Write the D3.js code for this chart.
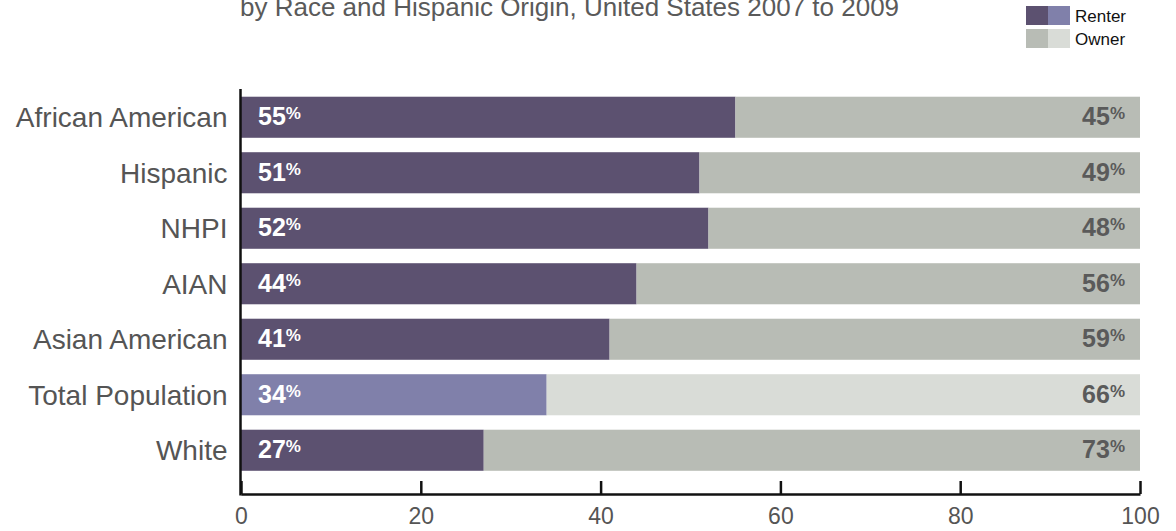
<!DOCTYPE html>
<html><head><meta charset="utf-8">
<script src="https://cdn.jsdelivr.net/npm/d3@7"></script>
<style>
body{margin:0;background:#fff;}
svg{display:block;font-family:"Liberation Sans",Arial,Helvetica,sans-serif;}
</style></head>
<body><svg id="chart" width="1176" height="531"></svg>
<script>
const categories = ["African American","Hispanic","NHPI","AIAN","Asian American","Total Population","White"];
const renter = [55,51,52,44,41,34,27];
const owner = [45,49,48,56,59,66,73];
const highlight = "Total Population";
const tickValues = [0,20,40,60,80,100];
const legendLabels = ["Renter","Owner"];
const subtitle = "by Race and Hispanic Origin, United States 2007 to 2009";

const colors = {
  renter:"#5c5170", renterHi:"#8080aa",
  owner:"#b8bcb5", ownerHi:"#d9dcd7"
};

const svg = d3.select("#chart");
const x = d3.scaleLinear().domain([0,100]).range([241,1140]);
const y = d3.scaleBand().domain(categories).range([89.5,478]).paddingInner(0.26).paddingOuter(0.13);

const rows = categories.map((c,i)=>({cat:c, renter:renter[i], owner:owner[i], hi:c===highlight}));

// title (second line visible)
svg.append("text").attr("x",240).attr("y",16).attr("fill","#5a5a5a")
  .style("font-size","26px").text(subtitle);

// bars
const g = svg.append("g");
g.selectAll("rect.renter").data(rows).join("rect")
  .attr("x",x(0)).attr("y",d=>y(d.cat))
  .attr("width",d=>x(d.renter)-x(0)).attr("height",y.bandwidth())
  .attr("fill",d=>d.hi?colors.renterHi:colors.renter);
g.selectAll("rect.owner").data(rows).join("rect")
  .attr("x",d=>x(d.renter)).attr("y",d=>y(d.cat))
  .attr("width",d=>x(d.renter+d.owner)-x(d.renter)).attr("height",y.bandwidth())
  .attr("fill",d=>d.hi?colors.ownerHi:colors.owner);

// renter labels
const rl = g.selectAll("text.rl").data(rows).join("text")
  .attr("x",x(0)+17).attr("y",d=>y(d.cat)+y.bandwidth()/2+8)
  .attr("fill","#fff").style("font-weight","bold").style("font-size","25px");
rl.append("tspan").text(d=>d.renter);
rl.append("tspan").style("font-size","17px").attr("dy",-6).text("%");

const ol = g.selectAll("text.ol").data(rows).join("text")
  .attr("x",x(100)-15).attr("y",d=>y(d.cat)+y.bandwidth()/2+8)
  .attr("text-anchor","end")
  .attr("fill","#5a5a5a").style("font-weight","bold").style("font-size","25px");
ol.append("tspan").text(d=>d.owner);
ol.append("tspan").style("font-size","17px").attr("dy",-6).text("%");

// y axis
const ya = svg.append("g").attr("transform",`translate(${x(0)-0.5},0)`)
  .call(d3.axisLeft(y).tickSize(0).tickPadding(13));
ya.select(".domain").remove();
ya.selectAll("text").style("font-size","28px").attr("fill","#555").attr("dy","0.35em")
  .style("font-family","'Liberation Sans',Arial,sans-serif");
svg.append("line").attr("x1",x(0)-0.5).attr("x2",x(0)-0.5).attr("y1",89).attr("y2",495.5)
  .attr("stroke","#111").attr("stroke-width",2.5);

// x axis
const xa = svg.append("g").attr("transform","translate(0,494)")
  .call(d3.axisBottom(x).tickValues(tickValues).tickSize(-13).tickSizeOuter(0).tickPadding(14).tickFormat(d3.format("d")));
xa.select(".domain").attr("stroke","#111").attr("stroke-width",2.5);
xa.selectAll(".tick line").attr("stroke","#111").attr("stroke-width",2.5);
xa.selectAll("text").style("font-size","23px").attr("fill","#555")
  .style("font-family","'Liberation Sans',Arial,sans-serif");

// legend
const lg = svg.append("g");
const legendColors = [[colors.renter,colors.renterHi],[colors.owner,colors.ownerHi]];
legendLabels.forEach((lab,i)=>{
  const yy = 6 + i*23;
  lg.append("rect").attr("x",1026).attr("y",yy).attr("width",22).attr("height",19).attr("fill",legendColors[i][0]);
  lg.append("rect").attr("x",1048).attr("y",yy).attr("width",22).attr("height",19).attr("fill",legendColors[i][1]);
  lg.append("text").attr("x",1075).attr("y",yy+15.5).attr("fill","#111").style("font-size","17px").text(lab);
});
</script></body></html>
